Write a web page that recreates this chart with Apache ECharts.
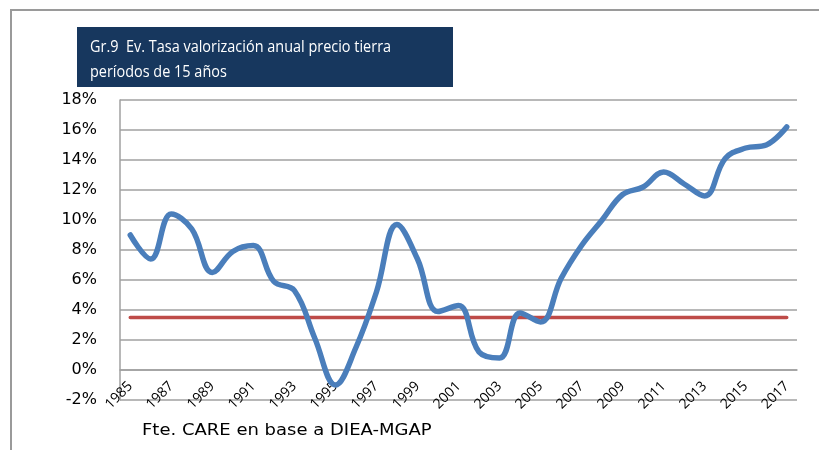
<!DOCTYPE html>
<html>
<head>
<meta charset="utf-8">
<script src="https://cdn.jsdelivr.net/npm/echarts@6/dist/echarts.min.js"></script>
<style>
html,body{margin:0;padding:0;background:#fff;}
#chart{width:819px;height:450px;}
</style>
</head>
<body>
<div id="chart"></div>
<script>
var categories = ['1985','1986','1987','1988','1989','1990','1991','1992','1993','1994','1995','1996','1997','1998','1999','2000','2001','2002','2003','2004','2005','2006','2007','2008','2009','2010','2011','2012','2013','2014','2015','2016','2017'];
var tasaValorizacion = [9.0, 7.4, 10.4, 9.4, 6.5, 7.9, 8.3, 5.9, 5.3, 2.1, -1.0, 1.5, 5.2, 9.7, 7.4, 3.9, 4.3, 1.2, 0.8, 3.8, 3.2, 6.1, 8.3, 10.0, 11.7, 12.2, 13.2, 12.4, 11.6, 14.1, 14.8, 15.0, 16.2];
var referencia = [3.5, 3.5, 3.5, 3.5, 3.5, 3.5, 3.5, 3.5, 3.5, 3.5, 3.5, 3.5, 3.5, 3.5, 3.5, 3.5, 3.5, 3.5, 3.5, 3.5, 3.5, 3.5, 3.5, 3.5, 3.5, 3.5, 3.5, 3.5, 3.5, 3.5, 3.5, 3.5, 3.5];
var yMin = -2, yMax = 18, yStep = 2;
var titleLines = ['Gr.9  Ev. Tasa valorización anual precio tierra', 'períodos de 15 años'];
var sourceText = 'Fte. CARE en base a DIEA-MGAP';

var chart = echarts.init(document.getElementById('chart'), null, {renderer: 'canvas'});
chart.setOption({
  animation: false,
  backgroundColor: '#ffffff',
  grid: {left: 120, top: 100, width: 677, height: 300, containLabel: false},
  xAxis: {
    type: 'category',
    data: categories,
    boundaryGap: true,
    axisLine: {show: true, lineStyle: {color: '#a0a0a0', width: 1.5}},
    axisTick: {show: false},
    axisLabel: {
      inside: true,
      rotate: 45,
      align: 'right',
      verticalAlign: 'middle',
      margin: 16,
      interval: 1,
      fontFamily: 'Open Sans',
      fontSize: 14,
      color: '#000000'
    },
    splitLine: {show: false}
  },
  yAxis: {
    type: 'value',
    min: yMin,
    max: yMax,
    interval: yStep,
    axisLine: {show: true, lineStyle: {color: '#a0a0a0', width: 1.5}},
    axisTick: {show: false},
    axisLabel: {
      formatter: '{value}%',
      margin: 23,
      fontFamily: 'DejaVu Sans',
      fontSize: 16,
      color: '#000000'
    },
    splitLine: {show: true, lineStyle: {color: '#a0a0a0', width: 1.5}}
  },
  series: [
    {
      type: 'line',
      data: tasaValorizacion,
      smooth: 0.4,
      showSymbol: false,
      lineStyle: {color: '#4A7EBB', width: 5.5, cap: 'round', join: 'round'},
      z: 3
    },
    {
      type: 'line',
      data: referencia,
      showSymbol: false,
      lineStyle: {color: '#BE4B48', width: 3.5, cap: 'round'},
      z: 2
    }
  ],
  graphic: [
    {
      type: 'polyline',
      shape: {points: [[11, 450], [11, 10], [819, 10]]},
      style: {stroke: '#9a9a9a', lineWidth: 2, fill: null},
      silent: true
    },
    {
      type: 'rect',
      shape: {x: 77, y: 27, width: 376, height: 60},
      style: {fill: '#17375E'},
      silent: true
    },
    {
      type: 'text',
      x: 90, y: 35,
      scaleX: 0.85,
      style: {text: titleLines.join('\n'), fill: '#ffffff', font: '17px "Open Sans"', lineHeight: 25},
      silent: true
    },
    {
      type: 'text',
      x: 142, y: 424,
      scaleX: 1.2,
      style: {text: sourceText, fill: '#000000', font: '15px "DejaVu Sans"'},
      silent: true
    }
  ]
});
</script>
</body>
</html>
